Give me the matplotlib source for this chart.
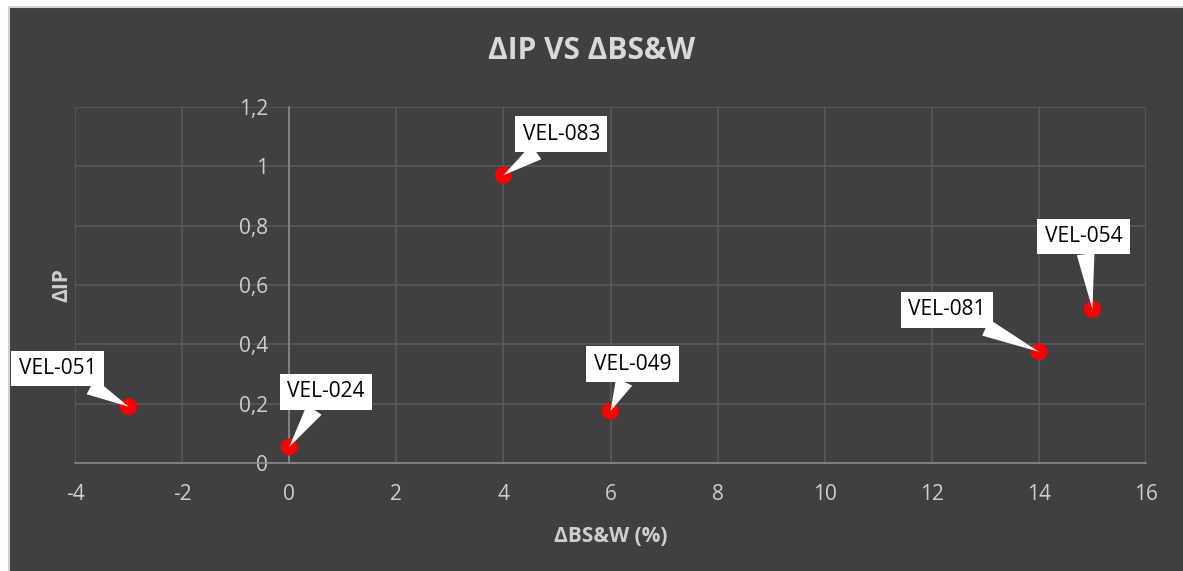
import matplotlib.pyplot as plt
from matplotlib.patches import Rectangle

plt.rcParams['font.family'] = ['Open Sans', 'DejaVu Sans']
plt.rcParams['axes.unicode_minus'] = False

# data
names = ['VEL-051', 'VEL-024', 'VEL-083', 'VEL-049', 'VEL-081', 'VEL-054']
d_bsw = [-3, 0, 4, 6, 14, 15]
d_ip = [0.19, 0.054, 0.97, 0.175, 0.375, 0.518]
x_ticks = [-4, -2, 0, 2, 4, 6, 8, 10, 12, 14, 16]
y_ticks = [0, 0.2, 0.4, 0.6, 0.8, 1.0, 1.2]
y_labels = ['0', '0,2', '0,4', '0,6', '0,8', '1', '1,2']

# label box offsets (pixels from point)
offsets = [(-71, 38), (37, 55), (58, 41), (22, 47), (-92, 42), (-9, 73)]

bg = '#404040'
txt = '#d9d9d9'
grid_c = '#595959'

fig = plt.figure(figsize=(11.83, 5.71), dpi=100, facecolor='white')
fig.patches.append(Rectangle((9 / 1183, -0.05), 1.1, 1.05 - 7 / 571,
                             transform=fig.transFigure, facecolor=bg,
                             edgecolor='#d0d0d0', linewidth=1.5, zorder=-10))

ax = fig.add_axes([75 / 1183, 1 - 463 / 571, (1146 - 75) / 1183, (463 - 107) / 571])
ax.set_facecolor(bg)
ax.set_xlim(-4, 16)
ax.set_ylim(0, 1.2)
ax.set_xticks(x_ticks)
ax.set_yticks(y_ticks)
ax.set_yticklabels(y_labels)
ax.grid(True, color=grid_c, linewidth=1.2)
ax.set_axisbelow(True)

for s in ['top', 'right']:
    ax.spines[s].set_visible(False)
ax.spines['left'].set_position(('data', 0))
ax.spines['left'].set_color('#8a8a8a')
ax.spines['left'].set_linewidth(1.2)
ax.spines['bottom'].set_color('#8a8a8a')
ax.spines['bottom'].set_linewidth(1.2)
ax.tick_params(axis='both', length=0, labelcolor='#cfcfcf', labelsize=15)
ax.tick_params(axis='x', pad=15)
ax.tick_params(axis='y', pad=15)

ax.scatter(d_bsw, d_ip, s=150, color='#ff0000', zorder=3, edgecolors='none')

for n, x, y, off in zip(names, d_bsw, d_ip, offsets):
    ax.annotate(n, (x, y), xytext=off, textcoords='offset pixels',
                ha='center', va='center', fontsize=15, color='black',
                bbox=dict(boxstyle='square,pad=0.35', fc='white', ec='none'),
                arrowprops=dict(arrowstyle='wedge,tail_width=0.85', fc='white',
                                ec='none', shrinkA=0, shrinkB=0),
                zorder=4)

fig.text(0.5, 1 - 51 / 571, 'ΔIP VS ΔBS&W', ha='center', va='center',
         fontsize=21.5, fontweight='bold', color=txt)
ax.set_xlabel('ΔBS&W (%)', fontsize=15, fontweight='bold', color='#cfcfcf')
ax.xaxis.set_label_coords(0.5, (463 - 537) / 356, transform=ax.transAxes)
ax.xaxis.label.set_va('center')
fig.text(62 / 1183, 1 - 285 / 571, 'ΔIP', rotation=90, ha='center', va='center',
         fontsize=15, fontweight='bold', color='#cfcfcf')

fig.savefig('out.png', dpi=100, facecolor=fig.get_facecolor())
